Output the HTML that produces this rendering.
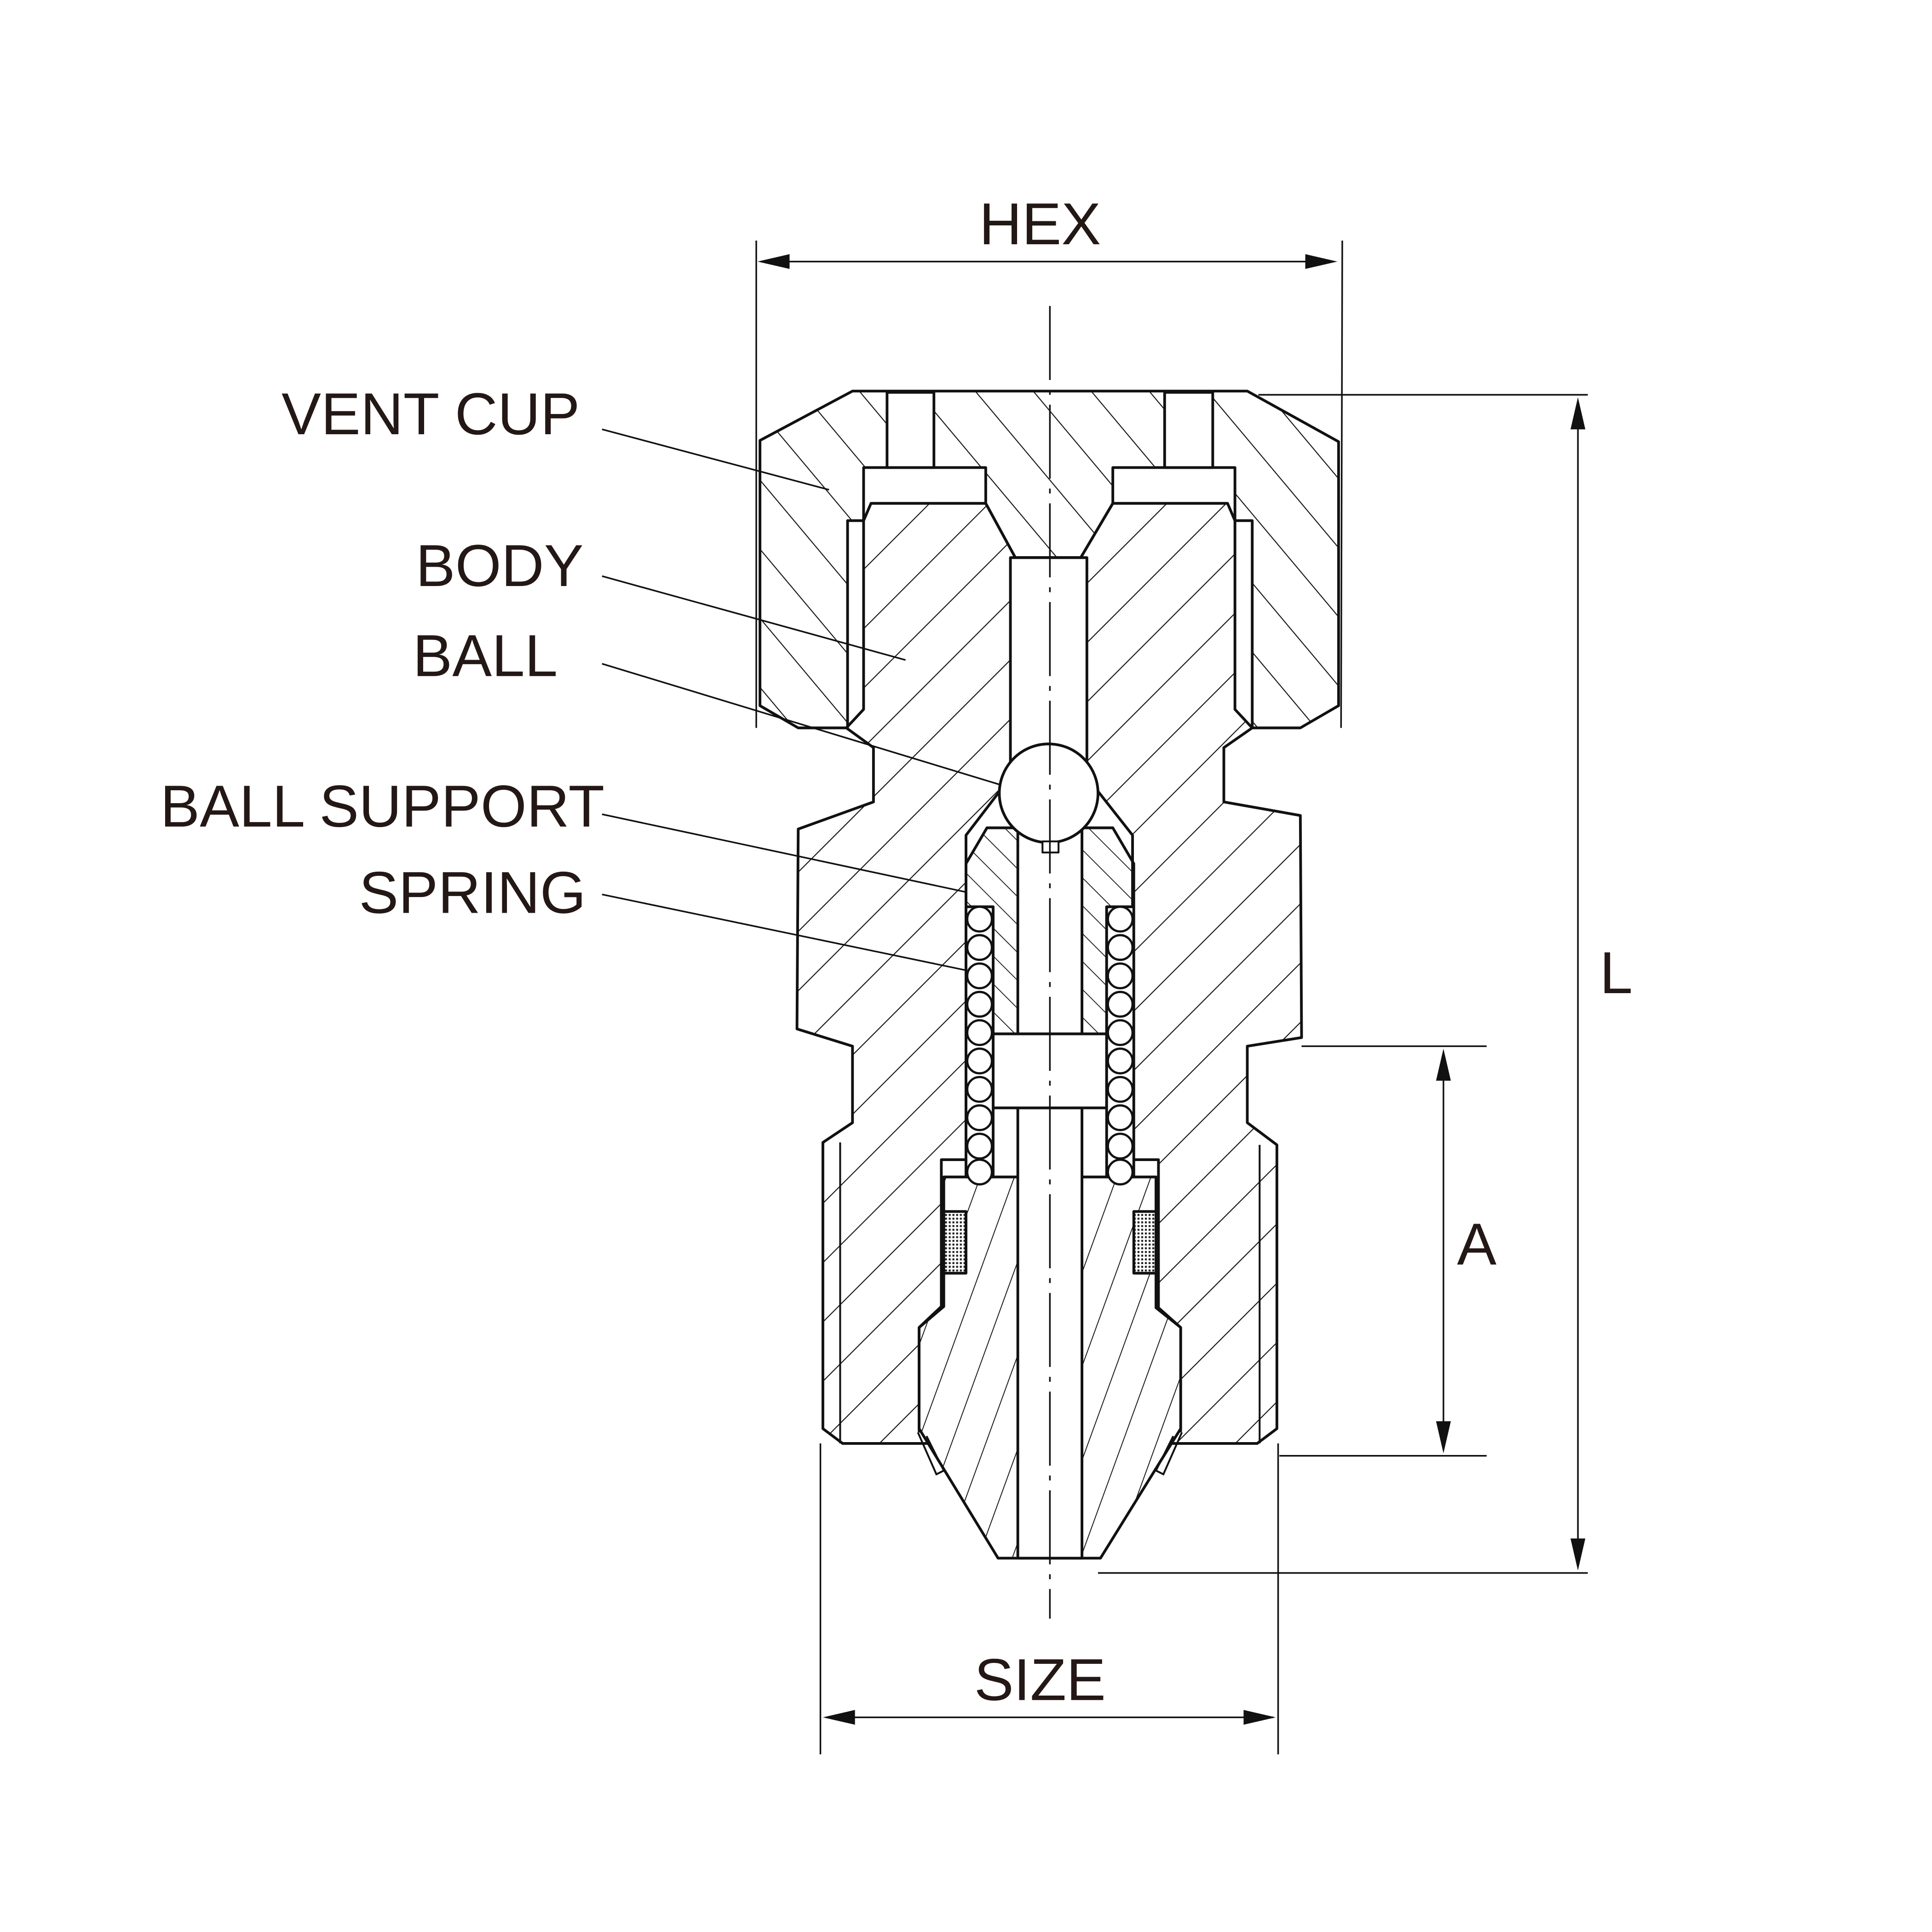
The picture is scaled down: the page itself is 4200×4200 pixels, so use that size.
<!DOCTYPE html>
<html><head><meta charset="utf-8"><style>html,body{margin:0;padding:0;background:#fff}svg{display:block}</style></head>
<body>
<svg width="4200" height="4200" viewBox="0 0 1566 1566" xmlns="http://www.w3.org/2000/svg">
<defs>
<pattern id="hb" patternUnits="userSpaceOnUse" width="34" height="34" patternTransform="rotate(45)"><line x1="0" y1="0" x2="0" y2="34" stroke="#111" stroke-width="1.6"/></pattern>
<pattern id="hc" patternUnits="userSpaceOnUse" width="36" height="36" patternTransform="rotate(-40)"><line x1="0" y1="0" x2="0" y2="36" stroke="#111" stroke-width="1.6"/></pattern>
<pattern id="hi" patternUnits="userSpaceOnUse" width="26" height="26" patternTransform="rotate(20)"><line x1="0" y1="0" x2="0" y2="26" stroke="#111" stroke-width="1.4"/></pattern>
<pattern id="hs" patternUnits="userSpaceOnUse" width="16" height="16" patternTransform="rotate(-45)"><line x1="0" y1="0" x2="0" y2="16" stroke="#111" stroke-width="1.3"/></pattern>
<pattern id="mesh" patternUnits="userSpaceOnUse" width="3" height="3"><rect width="3" height="3" fill="#fff"/><rect width="1.6" height="1.6" fill="#222"/></pattern>
</defs>
<rect width="1566" height="1566" fill="#fff"/>
<g stroke="#111" stroke-width="1.3" fill="none">
<line x1="613" y1="195" x2="613" y2="590"/>
<line x1="1088" y1="195" x2="1087" y2="590"/>
<line x1="1020" y1="320" x2="1287" y2="320"/>
<line x1="890" y1="1275" x2="1287" y2="1275"/>
<line x1="1055" y1="848" x2="1205" y2="848"/>
<line x1="1037" y1="1180" x2="1205" y2="1180"/>
<line x1="665" y1="1170" x2="665" y2="1422"/>
<line x1="1036" y1="1170" x2="1036" y2="1422"/>
<line x1="620" y1="212" x2="1080" y2="212"/>
<line x1="1279" y1="326" x2="1279" y2="1269"/>
<line x1="1170" y1="854" x2="1170" y2="1174"/>
<line x1="670" y1="1392" x2="1032" y2="1392"/>
<line x1="488" y1="348" x2="672" y2="397"/>
<line x1="488" y1="467" x2="734" y2="535"/>
<line x1="488" y1="538" x2="850" y2="648"/>
<line x1="488" y1="660" x2="792" y2="725"/>
<line x1="488" y1="725" x2="800" y2="790"/>
</g>
<g fill="#111">
<polygon points="614,212 640,206 640,218"/>
<polygon points="1084,212 1058,206 1058,218"/>
<polygon points="1279,322 1273,348 1285,348"/>
<polygon points="1279,1273 1273,1247 1285,1247"/>
<polygon points="1170,850 1164,876 1176,876"/>
<polygon points="1170,1178 1164,1152 1176,1152"/>
<polygon points="667,1392 693,1386 693,1398"/>
<polygon points="1034,1392 1008,1386 1008,1398"/>
</g>
<g transform="translate(7,0)">
<g stroke="#111" stroke-width="2.2" stroke-linejoin="round">
<polygon fill="url(#hc)" points="684,317 1004,317 1078,358 1078,572 1047,590 1008,590 1008,422 994,422 994,379 895,379 895,408 869,452 816,452 792,408 792,379 693,379 693,422 680,422 680,590 640,590 609,572 609,357"/>
<rect x="712" y="318" width="38" height="61" fill="#fff"/>
<rect x="937" y="318" width="39" height="61" fill="#fff"/>
<polygon fill="url(#hb)" points="693,422 699,408 792,408 816,452 869,452 895,408 988,408 994,422 994,575 1008,590 985,606 985,650 1047,661 1048,841 1004,848 1004,910 1028,928 1028,1158 1012,1170 957,1170 725,1170 676,1170 660,1158 660,926 684,910 684,848 639,834 640,672 701,650 701,606 679,590 693,575"/>
<polygon fill="#fff" points="812,452 874,452 874,630 911,677 911,940 932,940 932,1060 950,1076 950,1160 738,1160 738,1076 756,1059 756,940 776,940 776,677 812,630"/>
<polygon fill="#fff" stroke="none" points="758,954 930,954 930,1060 950,1076 950,1158 885,1263 802,1263 738,1158 738,1076 758,1059"/>
<polygon fill="url(#hi)" points="758,954 930,954 930,1060 950,1076 950,1158 885,1263 802,1263 738,1158 738,1076 758,1059"/>
<rect x="818" y="898" width="52" height="365" fill="#fff"/>
<polygon fill="url(#hs)" points="776,700 793,671 818,671 818,838 798,838 798,735 776,735"/>
<polygon fill="url(#hs)" points="912,700 895,671 870,671 870,838 890,838 890,735 912,735"/>
<rect x="798" y="838" width="92" height="60" fill="#fff"/>
<rect x="776" y="735" width="22" height="219" fill="#fff"/>
<rect x="890" y="735" width="22" height="219" fill="#fff"/>
<rect x="758" y="982" width="18" height="50" fill="url(#mesh)"/>
<rect x="912" y="982" width="18" height="50" fill="url(#mesh)"/>
<circle cx="843" cy="643" r="40" fill="#fff"/>
<rect x="838" y="682" width="13" height="9" fill="#fff" stroke-width="1.5"/>
</g>
<g stroke="#111" stroke-width="1.8" fill="#fff">
<ellipse cx="787" cy="745" rx="10" ry="10"/><ellipse cx="787" cy="768" rx="10" ry="10"/><ellipse cx="787" cy="791" rx="10" ry="10"/><ellipse cx="787" cy="814" rx="10" ry="10"/><ellipse cx="787" cy="837" rx="10" ry="10"/><ellipse cx="787" cy="860" rx="10" ry="10"/><ellipse cx="787" cy="883" rx="10" ry="10"/><ellipse cx="787" cy="906" rx="10" ry="10"/><ellipse cx="787" cy="929" rx="10" ry="10"/><ellipse cx="787" cy="950" rx="10" ry="10"/>
<ellipse cx="901" cy="745" rx="10" ry="10"/><ellipse cx="901" cy="768" rx="10" ry="10"/><ellipse cx="901" cy="791" rx="10" ry="10"/><ellipse cx="901" cy="814" rx="10" ry="10"/><ellipse cx="901" cy="837" rx="10" ry="10"/><ellipse cx="901" cy="860" rx="10" ry="10"/><ellipse cx="901" cy="883" rx="10" ry="10"/><ellipse cx="901" cy="906" rx="10" ry="10"/><ellipse cx="901" cy="929" rx="10" ry="10"/><ellipse cx="901" cy="950" rx="10" ry="10"/>
</g>
<g stroke="#111" stroke-width="1.5" fill="none">
<line x1="674" y1="926" x2="674" y2="1170"/>
<line x1="1014" y1="928" x2="1014" y2="1170"/>
<polyline points="737,1161 752,1195 758,1192 744,1164"/>
<polyline points="951,1161 936,1195 930,1192 944,1164"/>
<line x1="844" y1="248" x2="844" y2="1312" stroke-width="1.3" stroke-dasharray="60,8,4,8"/>
</g>
</g>
<g font-family="'Liberation Sans', sans-serif" font-size="48" fill="#231815">
<text x="470" y="352" text-anchor="end">VENT CUP</text>
<text x="473" y="475" text-anchor="end">BODY</text>
<text x="452" y="548" text-anchor="end">BALL</text>
<text x="490" y="670" text-anchor="end">BALL SUPPORT</text>
<text x="475" y="740" text-anchor="end">SPRING</text>
<text x="843" y="198" text-anchor="middle">HEX</text>
<text x="1310" y="805" text-anchor="middle">L</text>
<text x="1197" y="1025" text-anchor="middle">A</text>
<text x="843" y="1378" text-anchor="middle">SIZE</text>
</g>
</svg>
</body></html>
